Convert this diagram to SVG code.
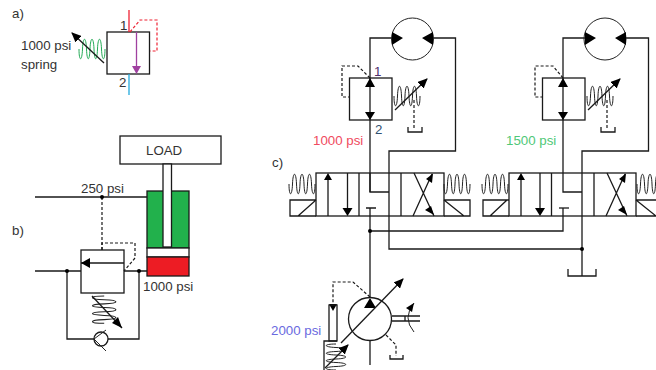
<svg xmlns="http://www.w3.org/2000/svg" width="656" height="370" viewBox="0 0 656 370">
<style>
text{font-family:"Liberation Sans",Arial,sans-serif;font-size:13.300px;fill:#333}
.l{fill:none;stroke:#1a1a1a;stroke-width:1.300}
.t{fill:none;stroke:#222;stroke-width:1}
.d{fill:none;stroke:#1a1a1a;stroke-width:1.200;stroke-dasharray:3 2}
.b{fill:#fff;stroke:#1a1a1a;stroke-width:1.300}
.h{fill:#000}
</style>
<defs>
<marker id="ah" markerWidth="10" markerHeight="9" refX="9" refY="4.500" orient="auto" markerUnits="userSpaceOnUse"><path d="M0 0L10 4.500L0 9Z" fill="#000"/></marker>
<path id="spr" fill="none" stroke-width="1" d="M0 9C0 22 3 22 3.500 9C4 -4 7 -4 7.500 9C8 22 10.500 22 11 9C11.500 -4 14.500 -4 15 9C15.500 22 18 22 18.500 9C19 -4 22 -4 22.500 9C23 22 26 22 26 9"/>
</defs>
<rect width="656" height="370" fill="#fff"/>

<g id="connectors">
<path class="l" d="M35 197H147M35 271H81M124 271H147M67 271V339H94M139 271V339H108"/>
<path class="d" d="M102 197V250"/>
<path class="l" d="M392 38H370V192H389M433 38H455.500V151H389V249H582M389 173V216"/>
<path class="l" d="M585 38H563V192H582M625 38H648.500V151H582V276"/>
<path class="l" d="M370 208V298M370 231H563V208"/>
<path class="l" d="M370 340V365"/>
</g>

<g id="valve-a">
<rect class="b" x="107" y="32" width="42.500" height="42"/>
<path d="M129 10V32" stroke="#ee2233" fill="none" stroke-width="1.300"/>
<path d="M129 74V95" stroke="#22aadd" fill="none" stroke-width="1.300"/>
<path d="M136.500 32V68" stroke="#a040a0" fill="none" stroke-width="1.300"/>
<path d="M132 66H141L136.500 74Z" fill="#a040a0"/>
<path d="M130 32L140 20H157V51H150" fill="none" stroke="#ee2233" stroke-width="1.200" stroke-dasharray="3 2"/>
<use href="#spr" x="79" y="40" stroke="#22aa55"/>
<path class="l" d="M104 63L72 33" marker-end="url(#ah)"/>
<text x="12" y="18">a)</text><text x="21" y="50">1000 psi</text><text x="21" y="69">spring</text>
<text x="120" y="30">1</text><text x="119" y="87">2</text>
</g>

<g id="load"><rect class="b" x="120" y="136" width="101" height="28"/><text x="146" y="155">LOAD</text></g>
<g id="cylinder">
<rect x="147" y="191" width="42" height="57" fill="#22b14c" stroke="#1a1a1a" stroke-width="1.300"/>
<rect x="147" y="248" width="42" height="9" fill="#fff" stroke="#1a1a1a" stroke-width="1.300"/>
<rect x="147" y="257" width="42" height="19" fill="#ed1c24" stroke="#1a1a1a" stroke-width="1.300"/>
<rect x="163" y="164" width="8.500" height="83" fill="#fff" stroke="#1a1a1a" stroke-width="1.300"/>
<text x="143" y="291">1000 psi</text>
</g>
<g id="valve-b">
<text x="81" y="193">250 psi</text><text x="12" y="235">b)</text>
<circle class="h" cx="102" cy="197" r="2"/><circle class="h" cx="67" cy="271" r="2"/><circle class="h" cx="139" cy="271" r="2"/>
<rect class="b" x="81" y="250" width="43" height="43"/>
<path class="l" d="M81 263H124"/><path class="h" d="M81 263L90 258V268Z"/>
<path class="d" d="M102 250V243H135V258L124 271"/>
<use href="#spr" transform="translate(115 296) rotate(90) scale(1.050 1.200)" stroke="#222"/>
<path class="l" d="M92 296L122 328"/><path class="h" d="M122 328L112 323L118 317Z"/>
<circle class="l" cx="101" cy="339" r="7"/>
<path class="t" d="M106 330L94 339L106 351"/>
</g>

<g id="motor-1"><circle class="t" cx="412.500" cy="39" r="21"/><path class="h" d="M403 38L392 32V45ZM422 38L433 32V45Z"/></g>
<g id="motor-2"><circle class="t" cx="605" cy="39" r="21"/><path class="h" d="M596 38L585 32V45ZM615 38L626 32V45Z"/></g>

<g id="relief-1">
<rect class="b" x="349.500" y="78" width="42.500" height="42"/>
<path class="l" d="M370 78V120"/><path class="h" d="M370 78L375 87H365ZM370 120L365 112H375Z"/>
<path class="d" d="M370 78L358 66H342V97H349"/>
<use href="#spr" x="394" y="87" stroke="#222"/>
<path class="l" d="M395 110L427 79" marker-end="url(#ah)"/>
<path class="d" d="M414 100V130"/><path class="l" d="M408 127V132H422V127"/>
<text x="374" y="76" style="fill:#503070">1</text><text x="375" y="134" style="fill:#305070">2</text>
<text x="313" y="145" style="fill:#f04a60">1000 psi</text>
</g>
<g id="relief-2">
<rect class="b" x="542.500" y="78" width="42.500" height="42"/>
<path class="l" d="M563 78V120"/><path class="h" d="M563 78L568 87H558ZM563 120L558 112H568Z"/>
<path class="d" d="M563 78L553 66H535V97H542"/>
<use href="#spr" x="587" y="87" stroke="#222"/>
<path class="l" d="M588 110L620 79" marker-end="url(#ah)"/>
<path class="d" d="M607 100V130"/><path class="l" d="M601 127V132H615V127"/>
<text x="506" y="145" style="fill:#50c878">1500 psi</text>
</g>

<g id="dcv-1">
<text x="272" y="167">c)</text>
<rect class="b" x="316" y="173" width="128" height="43" style="fill:none"/>
<path class="l" d="M359 173V216M401 173V216M328 216V175M347.500 173V212"/>
<path class="h" d="M328 173L332 180H324ZM347.500 216L342.500 208H352.500Z"/>
<path class="l" d="M366 208H376M370 173V192"/>
<path class="l" d="M413 216L432 174M414 173L434 216"/>
<path class="h" d="M433 173.500L432 183L426 179ZM434 215L425 210L431 206Z"/>
<use href="#spr" x="289" y="175" stroke="#222"/>
<path class="l" d="M316 200H290V216H316M298 216L316 200"/>
<use href="#spr" x="444" y="175" stroke="#222"/>
<path class="l" d="M444 200H470V216H444M444 200L464 216"/>
<circle class="h" cx="370" cy="231" r="2"/>
</g>
<g id="dcv-2">
<rect class="b" x="509" y="173" width="127" height="43" style="fill:none"/>
<path class="l" d="M551.500 173V216M594 173V216M521 216V175M540 173V212"/>
<path class="h" d="M521 173L525 180H517ZM540 216L535 208H545Z"/>
<path class="l" d="M559 208H569"/>
<path class="l" d="M606 216L625 174M607 173L627 216"/>
<path class="h" d="M626 173.500L625 183L619 179ZM627 215L618 210L624 206Z"/>
<use href="#spr" x="482" y="175" stroke="#222"/>
<path class="l" d="M509 200H483V216H509M490 216L507 200"/>
<use href="#spr" x="637" y="175" stroke="#222"/>
<path class="l" d="M636 200H656M636 200L656 216M636 216H656"/>
<circle class="h" cx="582" cy="249" r="2"/>
<path class="l" d="M568 269V276H596V269"/>
</g>

<g id="pump">
<circle class="l" cx="370" cy="319" r="21.500"/>
<path class="h" d="M370 298L376 308H364Z"/>
<path class="l" d="M341 343L403 279" marker-end="url(#ah)"/>
<path class="d" d="M370 297L353 282H333V305"/><path class="h" d="M333 311L329 304H337Z"/>
<rect class="l" x="329" y="305" width="8" height="36"/>
<path class="l" d="M324 370V341H337"/>
<use href="#spr" transform="translate(345 344) rotate(90)" stroke="#222"/>
<path class="l" d="M325 368L348 345" marker-end="url(#ah)"/>
<path class="l" d="M392 316H420M392 321H420M405 316V321"/>
<path class="t" d="M414 303Q402 318 414 332"/><path class="h" d="M414 303L406 308L412 312Z"/>
<path class="d" d="M386 335L396 345V356"/><path class="l" d="M390 355V359H403V355"/>
<text x="271" y="335" style="fill:#6a6ae0">2000 psi</text>
</g>
</svg>
